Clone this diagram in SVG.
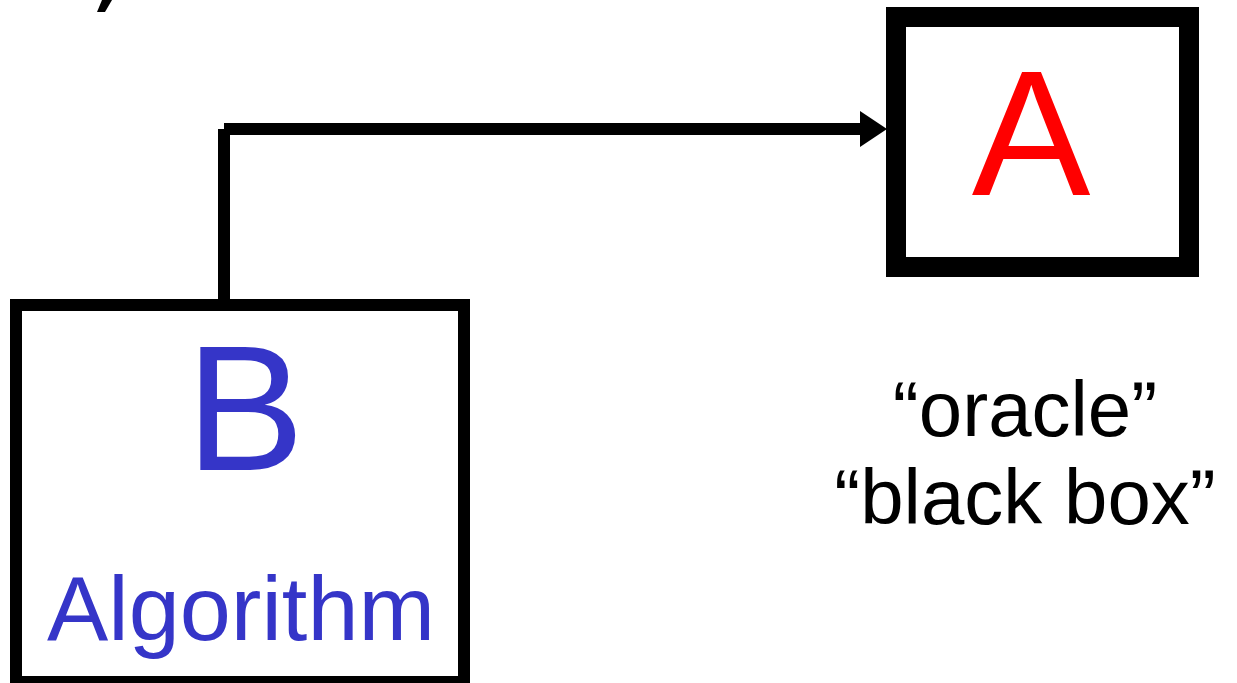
<svg xmlns="http://www.w3.org/2000/svg" width="1237" height="683" viewBox="0 0 1237 683">
  <style>
    .box { fill: #ffffff; stroke: #000000; }
    .wire { fill: none; stroke: #000000; stroke-width: 12; stroke-linecap: butt; }
    .hand { font-family: "Liberation Sans", Arial, sans-serif; text-anchor: middle; }
    .blue { fill: #3535C8; }
    .red { fill: #FF0000; }
    .note { fill: #000000; font-size: 78px; }
  </style>
  <defs>
    <marker id="arrowhead" markerUnits="userSpaceOnUse" markerWidth="28" markerHeight="36" refX="2" refY="18" orient="auto">
      <path d="M0,0 L27,18 L0,36 Z" fill="#000000"/>
    </marker>
  </defs>
  <rect width="1237" height="683" fill="#ffffff"/>

  <!-- stroke fragment at the top edge -->
  <polygon points="102,0 112,0 105,12 97,12" fill="#000000"/>

  <!-- connectors -->
  <g id="connectors">
    <line class="wire" x1="224" y1="299" x2="224" y2="129"/>
    <line class="wire" x1="224" y1="129" x2="862" y2="129" marker-end="url(#arrowhead)"/>
  </g>

  <!-- oracle box A -->
  <g id="node-a">
    <rect class="box" x="896" y="17" width="293" height="250" stroke-width="20"/>
    <text class="hand red" x="1031" y="195" font-size="178">A</text>
  </g>

  <!-- algorithm box B -->
  <g id="node-b">
    <rect class="box" x="16" y="305" width="448" height="377" stroke-width="12"/>
    <text class="hand blue" x="245" y="470" font-size="178">B</text>
    <text class="hand blue" x="241" y="640" font-size="90" textLength="388" lengthAdjust="spacingAndGlyphs">Algorithm</text>
  </g>

  <!-- caption for the oracle -->
  <g id="label-oracle">
    <text class="hand note" x="1025" y="436">“oracle”</text>
    <text class="hand note" x="1025" y="524">“black box”</text>
  </g>
</svg>
